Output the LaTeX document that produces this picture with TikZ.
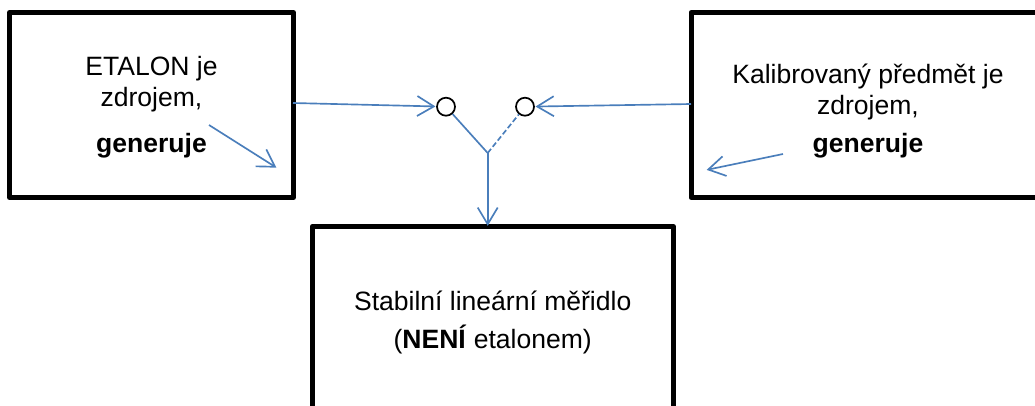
\documentclass[tikz,border=0pt]{standalone}
\usepackage{fontspec}
\setmainfont{Liberation Sans}
\usetikzlibrary{arrows.meta}
\definecolor{linkblue}{HTML}{4A7EBB}
\tikzset{
  thickbox/.style={draw=black,line width=3.75pt,line join=round,rectangle,inner sep=0pt,outer sep=0pt},
  boxtext/.style={align=center,inner sep=0pt,font=\fontsize{19.9}{23.25}\selectfont},
  contact/.style={draw=black,circle,line width=1.3pt,minimum size=13.5pt,inner sep=0pt,fill=white},
  wire/.style={draw=linkblue,line width=1.25pt},
  flow/.style={wire,-{Straight Barb[length=12.5pt,width=15pt,line width=1.25pt]},shorten >=0.5pt}
}
\begin{document}
\begin{tikzpicture}[x=0.75pt,y=-0.75pt]
\path[use as bounding box,clip] (0,0) rectangle (1035,405);
% boxes
\node[thickbox,minimum width=213pt,minimum height=138.75pt] (etalon) at (151.5,105) {};
\node[thickbox,minimum width=265.5pt,minimum height=138.75pt] (kal) at (868,105) {};
\node[thickbox,minimum width=270.75pt,minimum height=138.75pt,anchor=north] (meridlo) at (492.7,226.5) {};
% texts
\node[boxtext] (etalontext) at (151.5,107) {ETALON je\\zdrojem,\\[11.25pt]\textbf{generuje}};
\node[boxtext] (kaltext) at (868,111) {Kalibrovaný předmět je\\zdrojem,\\[5.25pt]\textbf{generuje}};
\node[boxtext] (meridlotext) at (492.7,322) {Stabilní lineární měřidlo\\[5.25pt](\textbf{NENÍ} etalonem)};
% contacts
\node[contact] (c1) at (446,106.7) {};
\node[contact] (c2) at (525,106.7) {};
\coordinate (j) at (487.7,153);
\coordinate (e1out) at (293,103);
\coordinate (k1out) at (691,104);
\coordinate (d1s) at (209,125);
\coordinate (d1e) at (277,168);
\coordinate (d2s) at (783,154);
\coordinate (d2e) at (706,170);
% connectors
\draw[flow] (e1out) -- (c1);
\draw[flow] (k1out) -- (c2);
\draw[wire] (c1) -- (j);
\draw[wire,dash pattern=on 4pt off 2pt] (j) -- (c2);
\draw[flow] (j) -- (j |- meridlo.north);
\draw[flow] (d1s) -- (d1e);
\draw[flow] (d2s) -- (d2e);
\end{tikzpicture}
\end{document}
